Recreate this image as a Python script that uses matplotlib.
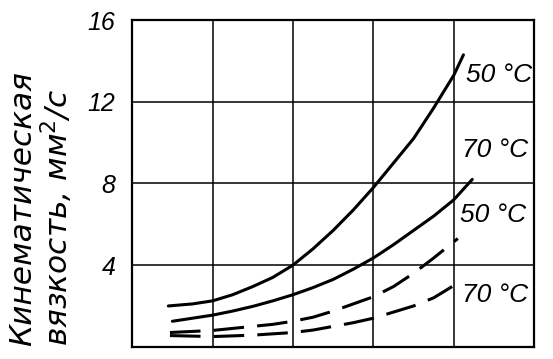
import matplotlib
matplotlib.use('Agg')
import matplotlib.pyplot as plt

# curve data (x in grid units, y in mm2/s)
x_50_solid = [0.45, 0.75, 1.0, 1.25, 1.5, 1.75, 2.0, 2.25, 2.5, 2.75, 3.0, 3.25, 3.5, 3.75, 4.0, 4.12]
y_50_solid = [2.0, 2.1, 2.25, 2.55, 2.95, 3.4, 4.0, 4.8, 5.7, 6.7, 7.8, 9.0, 10.2, 11.7, 13.3, 14.3]
x_70_solid = [0.5, 0.75, 1.0, 1.25, 1.5, 1.75, 2.0, 2.25, 2.5, 2.75, 3.0, 3.25, 3.5, 3.75, 4.0, 4.23]
y_70_solid = [1.25, 1.4, 1.55, 1.75, 1.98, 2.25, 2.55, 2.9, 3.3, 3.8, 4.35, 5.0, 5.7, 6.4, 7.2, 8.2]
x_50_dash = [0.47, 1.0, 1.5, 1.75, 2.0, 2.25, 2.5, 2.75, 3.0, 3.25, 3.5, 3.75, 4.05]
y_50_dash = [0.7, 0.8, 1.0, 1.1, 1.25, 1.45, 1.75, 2.1, 2.45, 2.95, 3.6, 4.35, 5.3]
x_70_dash = [0.47, 1.0, 1.5, 2.0, 2.25, 2.5, 2.75, 3.0, 3.25, 3.5, 3.75, 3.98]
y_70_dash = [0.55, 0.5, 0.57, 0.7, 0.82, 1.0, 1.18, 1.4, 1.7, 2.0, 2.4, 2.95]

labels = ['50 °C', '70 °C', '50 °C', '70 °C']
label_y = [13.3, 9.65, 6.45, 2.55]
label_x = [4.15, 4.1, 4.08, 4.1]

y_ticks = [4, 8, 12, 16]
ylabel_lines = ['Кинематическая', 'вязкость, мм$^2$/с']

fnt = ['Liberation Sans', 'DejaVu Sans']

fig = plt.figure(figsize=(5.53, 3.59), dpi=100)
ax = fig.add_axes([0.239, 0.034, 0.727, 0.91])

ax.set_xlim(0, 5)
ax.set_ylim(0, 16)

# grid
for gx in [1, 2, 3, 4]:
    ax.axvline(gx, color='black', lw=1.1, zorder=1)
for gy in [4, 8, 12]:
    ax.axhline(gy, color='black', lw=1.1, zorder=1)

for s in ax.spines.values():
    s.set_linewidth(1.6)

lw = 2.2
ax.plot(x_50_solid, y_50_solid, color='black', lw=lw, solid_capstyle='round', solid_joinstyle='round', zorder=3)
ax.plot(x_70_solid, y_70_solid, color='black', lw=lw, solid_capstyle='round', solid_joinstyle='round', zorder=3)
ax.plot(x_50_dash, y_50_dash, color='black', lw=lw, dashes=(10, 4.3), zorder=3)
ax.plot(x_70_dash, y_70_dash, color='black', lw=lw, dashes=(10, 4.3), zorder=3)

for t, lx, ly in zip(labels, label_x, label_y):
    ax.text(lx, ly, t, fontsize=19, style='italic', family=fnt,
            ha='left', va='center', zorder=4)

ax.set_xticks([])
ax.set_yticks(y_ticks)
ax.set_yticklabels([str(v) for v in y_ticks], fontsize=18, style='italic', family=fnt)
ax.tick_params(axis='y', length=0, pad=12)

fig.text(23 / 553, 0.035, ylabel_lines[0], rotation=90, ha='center', va='bottom',
         fontsize=22.5, style='italic')
fig.text(57 / 553, 0.035, ylabel_lines[1], rotation=90, ha='center', va='bottom',
         fontsize=22.5, style='italic')

fig.savefig('out.png', dpi=100)
